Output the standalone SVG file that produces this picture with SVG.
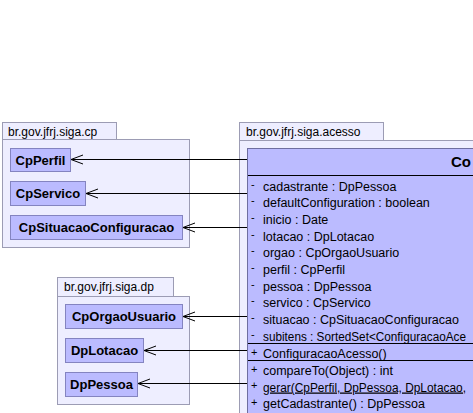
<svg xmlns="http://www.w3.org/2000/svg" width="473" height="413" viewBox="0 0 473 413">
<defs>
<style>
.pkg{fill:#EEEEFF;stroke:#9C9CB4;stroke-width:1}
.cls{fill:#BBBBFF;stroke:#8484C0;stroke-width:1}
.main{fill:#BBBBFF;stroke:#6E6EA0;stroke-width:1}
.sep{stroke:#000;stroke-width:1}
.plabel{font-family:"Liberation Sans",Arial,sans-serif;font-size:12px;fill:#000}
.cname{font-family:"Liberation Sans",Arial,sans-serif;font-size:13px;font-weight:bold;fill:#000;text-anchor:middle}
.hname{font-family:"Liberation Sans",Arial,sans-serif;font-size:15px;font-weight:bold;fill:#000}
.mem{font-family:"Liberation Sans",Arial,sans-serif;font-size:12.5px;fill:#000}
.vis{font-family:"Liberation Sans",Arial,sans-serif;font-size:11px;fill:#000}
.con{stroke:#000;stroke-width:1;fill:none;marker-end:url(#open)}
</style>
<marker id="open" markerUnits="userSpaceOnUse" markerWidth="16" markerHeight="12" viewBox="-14 -6 16 12" refX="0" refY="0" orient="auto">
<path d="M-12,-4.5 L0,0 L-12,4.5" fill="none" stroke="#000" stroke-width="1"/>
</marker>
</defs>
<rect width="473" height="413" fill="#FFFFFF"/>

<g id="pkg-cp">
<rect class="pkg" x="2.5" y="122.5" width="114" height="17"/>
<rect class="pkg" x="2.5" y="139.5" width="187" height="108"/>
<text class="plabel" x="8" y="135.5">br.gov.jfrj.siga.cp</text>
</g>

<g id="pkg-dp">
<rect class="pkg" x="57.5" y="277.5" width="116" height="19"/>
<rect class="pkg" x="57.5" y="296.5" width="132" height="108"/>
<text class="plabel" x="64" y="291">br.gov.jfrj.siga.dp</text>
</g>

<g id="pkg-acesso">
<rect class="pkg" x="239.5" y="122.5" width="144" height="18"/>
<rect class="pkg" x="239.5" y="140.5" width="300" height="300"/>
<text class="plabel" x="246" y="136">br.gov.jfrj.siga.acesso</text>
</g>

<g id="CpPerfil">
<rect class="cls" x="10.5" y="148.5" width="60" height="23"/>
<text class="cname" x="40.5" y="164.5">CpPerfil</text>
</g>
<g id="CpServico">
<rect class="cls" x="10.5" y="181.5" width="75" height="24"/>
<text class="cname" x="48" y="198">CpServico</text>
</g>
<g id="CpSituacaoConfiguracao">
<rect class="cls" x="10.5" y="215.5" width="172" height="24"/>
<text class="cname" x="96.5" y="232">CpSituacaoConfiguracao</text>
</g>
<g id="CpOrgaoUsuario">
<rect class="cls" x="65.5" y="304.5" width="117" height="24"/>
<text class="cname" x="124" y="321">CpOrgaoUsuario</text>
</g>
<g id="DpLotacao">
<rect class="cls" x="65.5" y="338.5" width="78" height="24"/>
<text class="cname" x="104.5" y="355">DpLotacao</text>
</g>
<g id="DpPessoa">
<rect class="cls" x="65.5" y="372.5" width="72" height="24"/>
<text class="cname" x="101.5" y="389">DpPessoa</text>
</g>

<g id="ConfiguracaoAcesso">
<rect class="main" x="247.5" y="148.5" width="300" height="300"/>
<text class="hname" x="451" y="167">Co</text>
<line class="sep" x1="248" y1="175.5" x2="473" y2="175.5"/>
<g class="vis">
<text x="251" y="187.5">-</text>
<text x="251" y="204.2">-</text>
<text x="251" y="220.9">-</text>
<text x="251" y="237.6">-</text>
<text x="251" y="254.3">-</text>
<text x="251" y="271">-</text>
<text x="251" y="287.7">-</text>
<text x="251" y="304.4">-</text>
<text x="251" y="321.1">-</text>
<text x="251" y="337.8">-</text>
<text x="251" y="355.5">+</text>
<text x="251" y="372.5">+</text>
<text x="251" y="389">+</text>
<text x="251" y="405.5">+</text>
</g>
<g class="mem">
<text x="263" y="190.5">cadastrante : DpPessoa</text>
<text x="263" y="207.2">defaultConfiguration : boolean</text>
<text x="263" y="223.9">inicio : Date</text>
<text x="263" y="240.6">lotacao : DpLotacao</text>
<text x="263" y="257.3">orgao : CpOrgaoUsuario</text>
<text x="263" y="274">perfil : CpPerfil</text>
<text x="263" y="290.7">pessoa : DpPessoa</text>
<text x="263" y="307.4">servico : CpServico</text>
<text x="263" y="324.1">situacao : CpSituacaoConfiguracao</text>
<text x="263" y="340.8" textLength="203" lengthAdjust="spacingAndGlyphs">subitens : SortedSet&lt;ConfiguracaoAce</text>
<text x="263" y="357.5">ConfiguracaoAcesso()</text>
<text x="263" y="375">compareTo(Object) : int</text>
<text x="263" y="391.5" textLength="203" lengthAdjust="spacingAndGlyphs" text-decoration="underline">gerar(CpPerfil, DpPessoa, DpLotacao,</text>
<text x="263" y="408">getCadastrante() : DpPessoa</text>
</g>
<line class="sep" x1="248" y1="343.5" x2="473" y2="343.5"/>
<line class="sep" x1="248" y1="360.5" x2="473" y2="360.5"/>
</g>

<g id="connectors">
<line class="con" x1="247" y1="159.5" x2="71" y2="159.5"/>
<line class="con" x1="247" y1="193.5" x2="86" y2="193.5"/>
<line class="con" x1="247" y1="227.5" x2="183" y2="227.5"/>
<line class="con" x1="247" y1="316.5" x2="183" y2="316.5"/>
<line class="con" x1="247" y1="350.5" x2="144" y2="350.5"/>
<line class="con" x1="247" y1="383.5" x2="138" y2="383.5"/>
</g>
</svg>
